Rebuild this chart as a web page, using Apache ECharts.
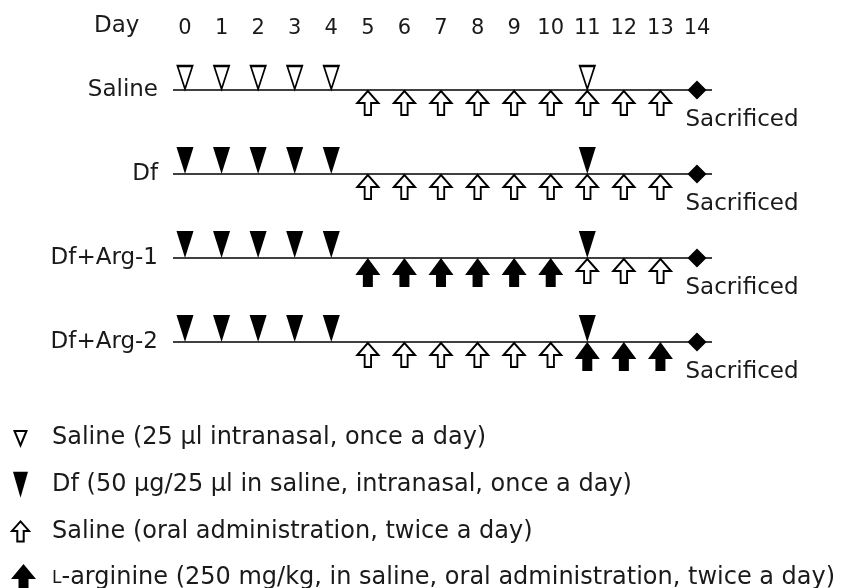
<!DOCTYPE html>
<html>
<head>
<meta charset="utf-8">
<script src="https://cdn.jsdelivr.net/npm/echarts@6/dist/echarts.min.js"></script>
<style>
  html, body { margin: 0; padding: 0; background: #fff; }
  #main { width: 849px; height: 588px; }
</style>
</head>
<body>
<div id="main"></div>
<script>
// ---- data ----
const days = ['0','1','2','3','4','5','6','7','8','9','10','11','12','13','14'];
const groups = ['Saline', 'Df', 'Df+Arg-1', 'Df+Arg-2'];

// [day, group]
const salineNasal = [[0,'Saline'],[1,'Saline'],[2,'Saline'],[3,'Saline'],[4,'Saline'],[11,'Saline']];
const dfNasal = [
  [0,'Df'],[1,'Df'],[2,'Df'],[3,'Df'],[4,'Df'],[11,'Df'],
  [0,'Df+Arg-1'],[1,'Df+Arg-1'],[2,'Df+Arg-1'],[3,'Df+Arg-1'],[4,'Df+Arg-1'],[11,'Df+Arg-1'],
  [0,'Df+Arg-2'],[1,'Df+Arg-2'],[2,'Df+Arg-2'],[3,'Df+Arg-2'],[4,'Df+Arg-2'],[11,'Df+Arg-2']
];
const salineOral = [
  [5,'Saline'],[6,'Saline'],[7,'Saline'],[8,'Saline'],[9,'Saline'],[10,'Saline'],[11,'Saline'],[12,'Saline'],[13,'Saline'],
  [5,'Df'],[6,'Df'],[7,'Df'],[8,'Df'],[9,'Df'],[10,'Df'],[11,'Df'],[12,'Df'],[13,'Df'],
  [11,'Df+Arg-1'],[12,'Df+Arg-1'],[13,'Df+Arg-1'],
  [5,'Df+Arg-2'],[6,'Df+Arg-2'],[7,'Df+Arg-2'],[8,'Df+Arg-2'],[9,'Df+Arg-2'],[10,'Df+Arg-2']
];
const argOral = [
  [5,'Df+Arg-1'],[6,'Df+Arg-1'],[7,'Df+Arg-1'],[8,'Df+Arg-1'],[9,'Df+Arg-1'],[10,'Df+Arg-1'],
  [11,'Df+Arg-2'],[12,'Df+Arg-2'],[13,'Df+Arg-2']
];
const sacrificeDay = [[14,'Saline'],[14,'Df'],[14,'Df+Arg-1'],[14,'Df+Arg-2']];
const timelineSpan = groups.map(g => [0, 14, g]);

const seriesNames = [
  'Saline (25 µl intranasal, once a day)',
  'Df (50 µg/25 µl in saline, intranasal, once a day)',
  'Saline (oral administration, twice a day)',
  'L-arginine (250 mg/kg, in saline, oral administration, twice a day)'
];
const sacrificedLabel = 'Sacrificed';
const dayTitle = 'Day';

// ---- styles ----
const FONT = 'DejaVu Sans';
const INK = '#000';
const TXT = '#1a1a1a';
const hollow = { color: '#fff', borderColor: INK, borderWidth: 2, opacity: 1 };
const solid = { color: INK, borderWidth: 0, opacity: 1 };

const chart = echarts.init(document.getElementById('main'), null, { renderer: 'canvas' });

chart.setOption({
  animation: false,
  backgroundColor: '#fff',
  textStyle: { fontFamily: FONT },
  title: {
    text: dayTitle, left: 94, top: 15, padding: 0,
    textStyle: { fontFamily: FONT, fontSize: 23, fontWeight: 'normal', color: TXT }
  },
  grid: { left: 185, right: 152, top: 48, height: 336 },
  xAxis: {
    type: 'category', data: days, position: 'top', boundaryGap: false,
    axisLine: { show: false }, axisTick: { show: false }, splitLine: { show: false },
    axisLabel: { fontFamily: FONT, fontSize: 21, color: TXT, margin: 9, interval: 0 }
  },
  yAxis: {
    type: 'category', data: groups, inverse: true,
    axisLine: { show: false }, axisTick: { show: false }, splitLine: { show: false },
    axisLabel: { fontFamily: FONT, fontSize: 23, color: TXT, margin: 27, padding: [6, 0, 0, 0] }
  },
  legend: {
    orient: 'vertical', left: 6, top: 423, height: 175, itemWidth: 40, itemHeight: 28, itemGap: 17.7,
    selectedMode: false, padding: 0,
    textStyle: { fontFamily: FONT, fontSize: 24, color: TXT, rich: { sc: { fontFamily: FONT, fontSize: 17, color: TXT } } },
    formatter: n => n.indexOf('L-') === 0 ? '{sc|L}' + n.slice(1) : n,
    data: [
      { name: seriesNames[0], icon: 'path://M0,0 M40,28 M7.5,7 L19.5,7 L13.5,21.5 Z', itemStyle: hollow },
      { name: seriesNames[1], icon: 'path://M0,0 M40,28 M6,1 L21,1 L13.5,27 Z', itemStyle: solid },
      { name: seriesNames[2], icon: 'path://M0,0 M40,28 M13.5,4 L22,13.5 L16.7,13.5 L16.7,24 L10.3,24 L10.3,13.5 L5,13.5 Z', itemStyle: hollow },
      { name: seriesNames[3], icon: 'path://M0,0 M40,28 M16.5,0 L29,15 L21.5,15 L21.5,28 L11.5,28 L11.5,15 L4,15 Z', itemStyle: solid }
    ]
  },
  series: [
    {
      type: 'custom', name: 'timeline', z: 1, silent: true,
      data: timelineSpan, encode: { x: [0, 1], y: 2 },
      renderItem: function (params, api) {
        const a = api.coord([api.value(0), api.value(2)]);
        const b = api.coord([api.value(1), api.value(2)]);
        return {
          type: 'line',
          shape: { x1: a[0] - 12, y1: a[1], x2: b[0] + 15, y2: b[1] },
          style: { stroke: INK, lineWidth: 1.7 }
        };
      }
    },
    {
      type: 'scatter', name: seriesNames[0], z: 3, data: salineNasal,
      symbol: 'path://M0,0 L15,0 L7.5,23 Z', symbolSize: [15, 23], symbolOffset: [0, -12.5],
      itemStyle: hollow
    },
    {
      type: 'scatter', name: seriesNames[1], z: 3, data: dfNasal,
      symbol: 'path://M0,0 L17,0 L8.5,27 Z', symbolSize: [17, 27], symbolOffset: [0, -13.5],
      itemStyle: solid
    },
    {
      type: 'scatter', name: seriesNames[2], z: 3, data: salineOral,
      symbol: 'path://M10.5,0 L21,12 L13.7,12 L13.7,24 L7.3,24 L7.3,12 L0,12 Z', symbolSize: [21, 24], symbolOffset: [0, 13],
      itemStyle: hollow
    },
    {
      type: 'scatter', name: seriesNames[3], z: 3, data: argOral,
      symbol: 'path://M12.5,0 L25,17 L17.5,17 L17.5,29 L7.5,29 L7.5,17 L0,17 Z', symbolSize: [25, 29], symbolOffset: [0, 14.5],
      itemStyle: solid
    },
    {
      type: 'scatter', name: 'sacrifice', z: 3, data: sacrificeDay,
      symbol: 'diamond', symbolSize: [19, 19],
      itemStyle: solid,
      label: {
        show: true, formatter: sacrificedLabel, position: [-2, 40],
        align: 'left', verticalAlign: 'middle',
        fontFamily: FONT, fontSize: 23, color: TXT, opacity: 1
      }
    }
  ]
});
</script>
</body>
</html>
